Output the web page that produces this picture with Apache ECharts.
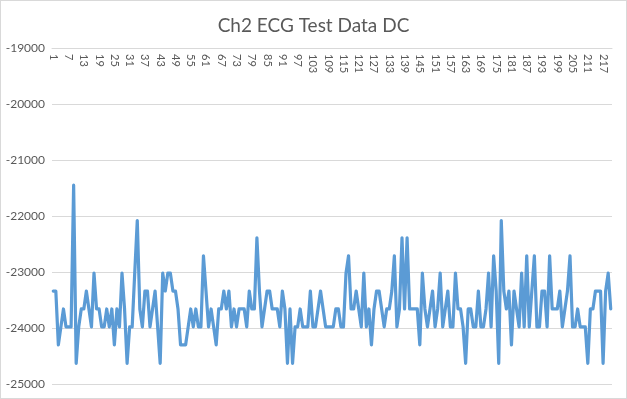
<!DOCTYPE html>
<html>
<head>
<meta charset="utf-8">
<script src="https://cdn.jsdelivr.net/npm/echarts@6/dist/echarts.min.js"></script>
<style>
html,body{margin:0;padding:0;background:#fff;}
#chart{width:625px;height:397px;border:1px solid #d9d9d9;}
</style>
</head>
<body>
<div id="chart"></div>
<script>
var titleText = "Ch2 ECG Test Data DC";
var pointCount = 220;
var categories = [];
for (var k = 1; k <= pointCount; k++) categories.push(String(k));
var yTicks = [-25000, -24000, -23000, -22000, -21000, -20000, -19000];

var ch2a = [-23340,-23340,-24300,-23980,-23660,-23980,-23980,-23980,-21450,-24630,
            -23980,-23660,-23660,-23340,-23660,-23980,-23020,-23660,-23660,-23980,
            -23980,-23660,-23980,-23660,-24300,-23660,-23980,-23020,-23660,-24630,
            -23980,-23980,-23020,-22080,-23660,-23980,-23340,-23340,-23980,-23660,
            -23340,-23980,-24630,-23020,-23340,-23020,-23020,-23340,-23340,-23660,
            -24300,-24300,-24300,-23980,-23660,-23980,-23660,-23980,-23980,-22710];
var ch2b = [-23340,-23980,-23660,-23980,-24300,-23660,-23660,-23340,-23660,-23340,
            -23980,-23660,-23980,-23660,-23660,-23660,-23980,-23340,-23660,-23660,
            -22390,-23340,-23980,-23660,-23340,-23340,-23660,-23660,-23660,-23980,
            -23340,-23660,-24630,-23660,-24630,-23980,-23980,-23660,-23980,-23980,
            -23980,-23340,-23980,-23980,-23660,-23340,-23660,-23980,-23980,-23980,
            -23980,-23660,-23660,-23980,-23980,-23020,-22710,-23660,-23660,-23340];
var ch2c = [-23660,-23980,-23020,-23980,-23660,-24300,-23660,-23340,-23340,-23660,
            -23980,-23660,-23660,-23340,-22710,-23980,-23660,-22390,-23660,-22390,
            -23660,-23660,-23660,-23660,-24300,-23020,-23660,-23980,-23660,-23340,
            -23980,-23660,-23020,-23980,-23660,-23340,-23980,-23980,-23020,-23660,
            -23660,-23980,-24630,-23660,-23660,-23980,-23980,-23340,-23980,-23980,
            -23660,-23020,-23980,-22710,-23340,-24630,-22080,-23340,-23660,-23340];
var ch2d = [-24300,-23340,-23660,-23980,-23020,-23980,-22710,-23980,-23340,-22710,
            -23980,-23980,-23340,-23340,-23980,-22710,-23660,-23660,-23660,-23340,
            -23980,-23660,-23340,-22710,-23980,-23980,-23660,-23980,-23980,-23980,
            -24630,-23660,-23660,-23340,-23340,-23340,-24630,-23340,-23020,-23660];
var ch2Values = ch2a.concat(ch2b, ch2c, ch2d);

var font = "Lato, 'Open Sans', sans-serif";
var chart = echarts.init(document.getElementById('chart'), null, {renderer: 'canvas'});
chart.setOption({
  animation: false,
  backgroundColor: '#ffffff',
  title: {
    text: titleText,
    left: 'center',
    top: 10,
    textStyle: {color: '#595959', fontSize: 19, fontWeight: 'normal', fontFamily: font}
  },
  grid: {left: 51, right: 14, top: 47, bottom: 14, containLabel: false},
  xAxis: {
    type: 'category',
    position: 'top',
    data: categories,
    boundaryGap: true,
    axisLine: {show: true, lineStyle: {color: '#d9d9d9', width: 1}},
    axisTick: {show: false},
    axisLabel: {
      interval: 5,
      rotate: 90,
      inside: true,
      margin: 6,
      color: '#595959',
      fontSize: 11,
      fontFamily: font
    },
    splitLine: {show: false}
  },
  yAxis: {
    type: 'value',
    min: yTicks[0],
    max: yTicks[yTicks.length - 1],
    interval: 1000,
    axisLine: {show: false},
    axisTick: {show: false},
    axisLabel: {
      color: '#595959', fontSize: 12, fontFamily: font, margin: 7,
      formatter: function (v) { return String(v); }
    },
    splitLine: {lineStyle: {color: '#d9d9d9', width: 1}}
  },
  series: [{
    type: 'line',
    data: ch2Values,
    symbol: 'none',
    lineStyle: {color: '#5b9bd5', width: 3.2, join: 'round', cap: 'round'},
    itemStyle: {color: '#5b9bd5'}
  }]
});
</script>
</body>
</html>
